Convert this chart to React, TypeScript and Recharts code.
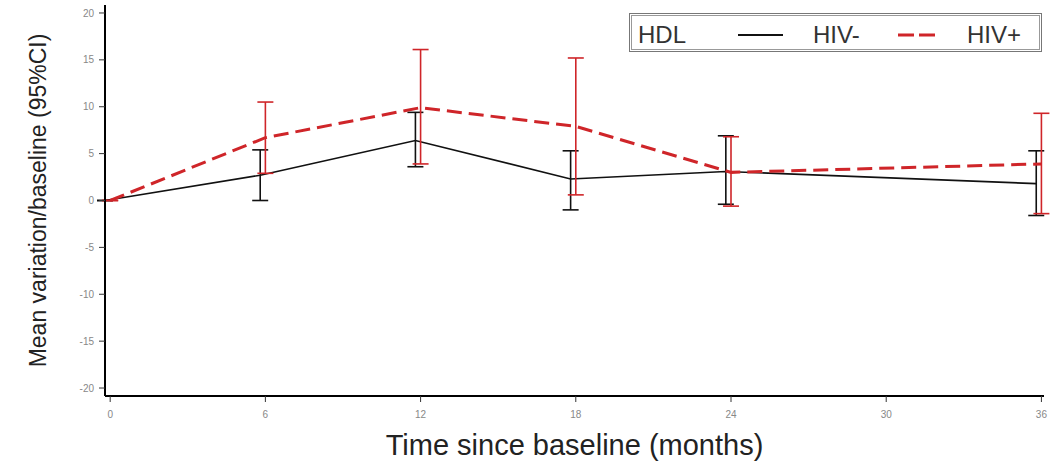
import React from 'react';
import { LineChart, Line, XAxis, YAxis, ErrorBar, Legend } from 'recharts';

// Visit months and HDL mean change from baseline with 95% CI bounds
const months = [0, 6, 12, 18, 24, 36];

const hivNegMean = [0, 2.7, 6.4, 2.3, 3.1, 1.8];
const hivNegLow = [0, 0.0, 3.6, -1.0, -0.4, -1.6];
const hivNegHigh = [0, 5.4, 9.4, 5.3, 6.9, 5.3];

const hivPosMean = [0, 6.7, 9.9, 7.9, 3.0, 3.9];
const hivPosLow = [0, 2.9, 3.9, 0.6, -0.6, -1.4];
const hivPosHigh = [0, 10.5, 16.1, 15.2, 6.8, 9.3];

const xTicks = [0, 6, 12, 18, 24, 30, 36];
const yTicks = [-20, -15, -10, -5, 0, 5, 10, 15, 20];

// small horizontal dodge so the two groups' CI bars don't overlap
const NEG_DODGE = -0.2;

const FONT = '"Liberation Sans", Arial, Helvetica, sans-serif';
const RED = '#cf2529';
const BLACK = '#111';

const build = (mean: number[], low: number[], high: number[], dodge: number) =>
  months.map((m, i) => ({
    x: m + dodge,
    y: mean[i],
    ci: [mean[i] - low[i], high[i] - mean[i]],
  }));

const negData = build(hivNegMean, hivNegLow, hivNegHigh, NEG_DODGE);
const posData = build(hivPosMean, hivPosLow, hivPosHigh, 0);

const LegendBox = () => (
  <svg width={413} height={39} style={{ display: 'block', fontFamily: FONT }}>
    <rect x={0.5} y={0.5} width={412} height={38} fill="#fff" stroke="#777" strokeWidth={1} />
    <rect x={2.5} y={2.5} width={408} height={34} fill="none" stroke="#999" strokeWidth={1} />
    <text x={9} y={30} fontSize={24} fill="#333">HDL</text>
    <line x1={109} y1={22} x2={154} y2={22} stroke={BLACK} strokeWidth={2} />
    <text x={184} y={30} fontSize={24} fill="#333">HIV-</text>
    <line x1={269} y1={22} x2={306} y2={22} stroke={RED} strokeWidth={3} strokeDasharray="16 5" />
    <text x={338} y={30} fontSize={24} fill="#333">HIV+</text>
  </svg>
);

const XTitle = (props: any) => {
  const { viewBox } = props;
  return (
    <text
      x={viewBox.x + viewBox.width / 2}
      y={viewBox.y + 59}
      textAnchor="middle"
      fontFamily={FONT}
      fontSize={29}
      fill="#222"
    >
      Time since baseline (months)
    </text>
  );
};

const YTitle = (props: any) => {
  const { viewBox } = props;
  const cx = viewBox.x + 38;
  const cy = viewBox.y + viewBox.height / 2;
  return (
    <text
      transform={`translate(${cx},${cy}) rotate(-90)`}
      textAnchor="middle"
      dominantBaseline="central"
      fontFamily={FONT}
      fontSize={23}
      fill="#222"
    >
      Mean variation/baseline (95%CI)
    </text>
  );
};

const tickStyle = { fontSize: 10, fill: '#888', fontFamily: FONT };

export default function App() {
  return (
    <div style={{ position: 'absolute', left: 0, top: 0, background: '#fff' }}>
      <LineChart width={1063} height={462} margin={{ top: 5, right: 19, left: 0, bottom: 0 }}>
        <XAxis
          type="number"
          dataKey="x"
          domain={[-0.2, 36.1]}
          ticks={xTicks}
          allowDataOverflow
          height={66}
          axisLine={{ stroke: '#000', strokeWidth: 2 }}
          tickLine={{ stroke: '#333' }}
          tickSize={6}
          tickMargin={9}
          tick={tickStyle}
          label={<XTitle />}
        />
        <XAxis
          xAxisId="top"
          orientation="top"
          type="number"
          domain={[-0.2, 36.1]}
          height={0}
          tick={false}
          tickLine={false}
          axisLine={{ stroke: '#444', strokeWidth: 2 }}
        />
        <YAxis
          type="number"
          domain={[-20.85, 20.85]}
          ticks={yTicks}
          allowDataOverflow
          width={105}
          axisLine={{ stroke: '#000', strokeWidth: 2 }}
          tickLine={{ stroke: '#333' }}
          tickSize={6}
          tickMargin={5}
          tick={tickStyle}
          label={<YTitle />}
        />
        <YAxis
          yAxisId="right"
          orientation="right"
          type="number"
          domain={[-20.85, 20.85]}
          width={0}
          tick={false}
          tickLine={false}
          axisLine={{ stroke: '#444', strokeWidth: 2 }}
        />
        <Legend
          layout="vertical"
          align="center"
          verticalAlign="middle"
          content={<LegendBox />}
          wrapperStyle={{ top: 13, left: 629, width: 413, height: 39 }}
        />
        <Line
          name="HIV-"
          data={negData}
          dataKey="y"
          stroke={BLACK}
          strokeWidth={1.6}
          dot={false}
          activeDot={false}
          isAnimationActive={false}
        >
          <ErrorBar dataKey="ci" direction="y" width={8} stroke={BLACK} strokeWidth={1.6} isAnimationActive={false} />
        </Line>
        <Line
          name="HIV+"
          data={posData}
          dataKey="y"
          stroke={RED}
          strokeWidth={3}
          strokeDasharray="15 7"
          dot={false}
          activeDot={false}
          isAnimationActive={false}
        >
          <ErrorBar dataKey="ci" direction="y" width={8} stroke={RED} strokeWidth={1.6} isAnimationActive={false} />
        </Line>
      </LineChart>
    </div>
  );
}
